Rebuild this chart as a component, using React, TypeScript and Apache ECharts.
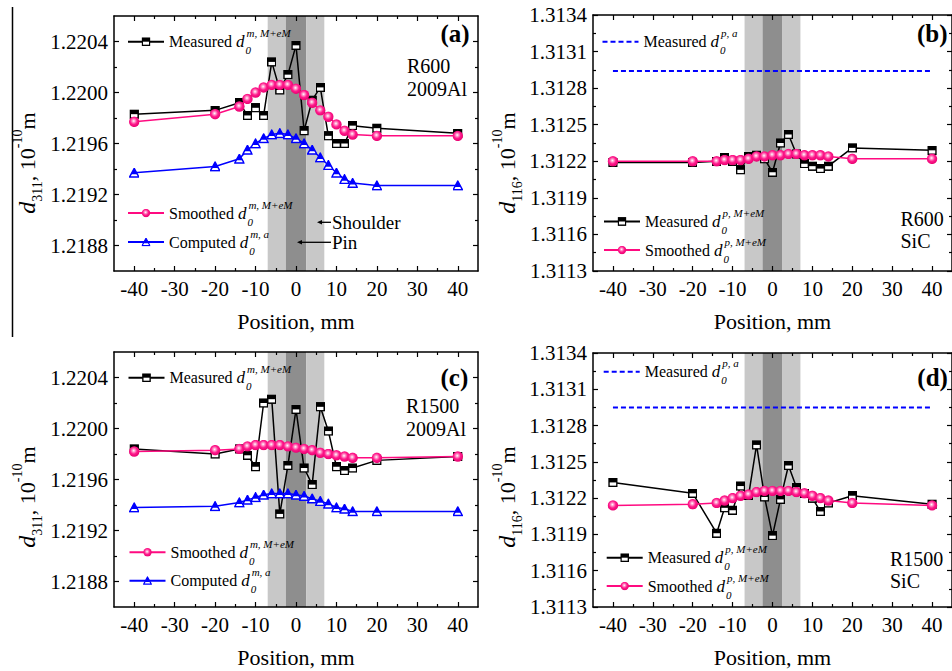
import React, { useEffect, useRef } from 'react';
import * as echarts from 'echarts';

const FONT = "'Liberation Serif', 'Times New Roman', Times, serif";

// ---------- data ----------
const positions = [-40, -20, -14, -12, -10, -8, -6, -4, -2, 0, 2, 4, 6, 8, 10, 12, 14, 20, 40];

const aMeasured = [1.21983, 1.21986, 1.21992, 1.21982, 1.21988, 1.21982, 1.22024, 1.22002, 1.22014, 1.22037, 1.21970, 1.21994, 1.22004, 1.21966, 1.21960, 1.21960, 1.21974, 1.21972, 1.21968];
const aSmoothed = [1.21977, 1.21983, 1.21989, 1.21995, 1.22000, 1.22004, 1.22006, 1.22006, 1.22006, 1.22003, 1.21998, 1.21992, 1.21986, 1.21981, 1.21975, 1.21970, 1.21967, 1.21966, 1.21966];
const aComputed = [1.21937, 1.21942, 1.21948, 1.21955, 1.21960, 1.21964, 1.21967, 1.21968, 1.21967, 1.21964, 1.21960, 1.21955, 1.21949, 1.21943, 1.21937, 1.21932, 1.21929, 1.21927, 1.21927];

const bMeasured = [1.31219, 1.31219, 1.31220, 1.31223, 1.31220, 1.31213, 1.31224, 1.31225, 1.31222, 1.31211, 1.31235, 1.31242, 1.31226, 1.31218, 1.31216, 1.31214, 1.31216, 1.31231, 1.31229];
const bSmoothed = [1.31220, 1.31220, 1.31220, 1.31221, 1.31221, 1.31221, 1.31222, 1.31224, 1.31224, 1.31225, 1.31225, 1.31226, 1.31226, 1.31225, 1.31225, 1.31225, 1.31224, 1.31222, 1.31222];
const bMeasuredA = 1.31294;

const cMeasured = [1.21984, 1.21980, 1.21984, 1.21979, 1.21970, 1.22020, 1.22023, 1.21933, 1.21971, 1.22015, 1.21969, 1.21956, 1.22017, 1.21998, 1.21970, 1.21967, 1.21969, 1.21975, 1.21978];
const cSmoothed = [1.21982, 1.21983, 1.21984, 1.21986, 1.21987, 1.21987, 1.21987, 1.21987, 1.21986, 1.21985, 1.21984, 1.21983, 1.21981, 1.21980, 1.21979, 1.21978, 1.21977, 1.21977, 1.21978];
const cComputed = [1.21938, 1.21939, 1.21942, 1.21944, 1.21946, 1.21948, 1.21949, 1.21949, 1.21949, 1.21948, 1.21947, 1.21945, 1.21943, 1.21941, 1.21938, 1.21937, 1.21935, 1.21935, 1.21935];

const dMeasured = [1.31233, 1.31224, 1.31191, 1.31212, 1.31210, 1.31230, 1.31222, 1.31264, 1.31221, 1.31189, 1.31219, 1.31247, 1.31229, 1.31224, 1.31220, 1.31209, 1.31216, 1.31222, 1.31215];
const dSmoothed = [1.31214, 1.31215, 1.31216, 1.31218, 1.31220, 1.31222, 1.31223, 1.31225, 1.31226, 1.31226, 1.31226, 1.31226, 1.31225, 1.31224, 1.31222, 1.31220, 1.31218, 1.31216, 1.31214];
const dMeasuredA = 1.31295;

const dashExtent = [-40, 40];
const shoulderZone = [-7, 7];
const pinZone = [-2.5, 2.5];

// ---------- ticks ----------
const xRange = [-45, 45];
const xMajorTicks = [-40, -30, -20, -10, 0, 10, 20, 30, 40];
const xMinorTicks = [-35, -25, -15, -5, 5, 15, 25, 35];
const d311Range = [1.2186, 1.2206];
const d311MajorTicks = [1.2188, 1.2192, 1.2196, 1.22, 1.2204];
const d311MinorTicks = [1.219, 1.2194, 1.2198, 1.2202];
const d116Range = [1.3113, 1.3134];
const d116MajorTicks = [1.3113, 1.3116, 1.3119, 1.3122, 1.3125, 1.3128, 1.3131, 1.3134];
const d116MinorTicks = [1.31145, 1.31175, 1.31205, 1.31235, 1.31265, 1.31295, 1.31325];

// ---------- symbols ----------
const svgUrl = (s: string) => 'image://data:image/svg+xml;charset=utf-8,' + encodeURIComponent(s);
const SQUARE = svgUrl(
  '<svg xmlns="http://www.w3.org/2000/svg" width="20" height="20" viewBox="0 0 20 20">' +
    '<rect x="1.6" y="1.6" width="16.8" height="16.8" fill="#fff" stroke="#000" stroke-width="3.2"/>' +
    '<rect x="1.6" y="1.6" width="16.8" height="8.4" fill="#000"/></svg>'
);
const TRIANGLE = svgUrl(
  '<svg xmlns="http://www.w3.org/2000/svg" width="20" height="20" viewBox="0 0 20 20">' +
    '<polygon points="10,1.5 18.8,18 1.2,18" fill="#fff" stroke="#0000ff" stroke-width="2.8"/>' +
    '<polygon points="10,1.5 16,12.8 4,12.8" fill="#0000ff"/></svg>'
);
const BALL = svgUrl(
  '<svg xmlns="http://www.w3.org/2000/svg" width="20" height="20" viewBox="0 0 20 20">' +
    '<defs><radialGradient id="g" cx="0.45" cy="0.42" r="0.6">' +
    '<stop offset="0" stop-color="#ffffff"/><stop offset="0.22" stop-color="#ff9ccc"/>' +
    '<stop offset="0.55" stop-color="#ff1a8c"/><stop offset="1" stop-color="#e6006e"/></radialGradient></defs>' +
    '<circle cx="10" cy="10" r="9.5" fill="url(#g)"/></svg>'
);

const BLACK = '#000000';
const PINK = '#ff0a80';
const BLUE = '#0000ff';

// ---------- legend texts ----------
const legendLabels: Record<string, string> = {
  aMeas: '{t|Measured }{i|d}{sub|0}{sup|m, M+eM}',
  aSmooth: '{t|Smoothed }{i|d}{sub|0}{sup|m, M+eM}',
  aComp: '{t|Computed }{i|d}{sub|0}{sup|m, a}',
  bDash: '{t|Measured }{i|d}{sub|0}{sup|p, a}',
  bMeas: '{t|Measured }{i|d}{sub|0}{sup|p, M+eM}',
  bSmooth: '{t|Smoothed }{i|d}{sub|0}{sup|p, M+eM}',
  cMeas: '{t|Measured }{i|d}{sub|0}{sup|m, M+eM}',
  cSmooth: '{t|Smoothed }{i|d}{sub|0}{sup|m, M+eM}',
  cComp: '{t|Computed }{i|d}{sub|0}{sup|m, a}',
  dDash: '{t|Measured }{i|d}{sub|0}{sup|p, a}',
  dMeas: '{t|Measured }{i|d}{sub|0}{sup|p, M+eM}',
  dSmooth: '{t|Smoothed }{i|d}{sub|0}{sup|p, M+eM}',
};

const LEG_LH = 28;
const legendRich = {
  t: { fontFamily: FONT, fontSize: 16, lineHeight: LEG_LH, color: '#000' },
  i: { fontFamily: FONT, fontSize: 17, fontStyle: 'italic', lineHeight: LEG_LH, color: '#000', padding: [0, 1, 0, 0] },
  sub: { fontFamily: FONT, fontSize: 11, fontStyle: 'italic', lineHeight: 12, verticalAlign: 'bottom', color: '#000', width: 1 },
  sup: { fontFamily: FONT, fontSize: 11, fontStyle: 'italic', lineHeight: 12, verticalAlign: 'top', color: '#000' },
};

// ---------- layout ----------
const panels = [
  {
    grid: { left: 114, top: 16, width: 364, height: 255 },
    yRange: d311Range, yMajor: d311MajorTicks, yMinor: d311MinorTicks,
    yTitle: { x: 27, y: 163, sub: '311' },
    tag: { text: '(a)', x: 440.5, y: 33 },
    notes: [{ text: 'R600', x: 407, y: 66 }, { text: '2009Al', x: 407, y: 88.5 }],
    legends: [
      { name: 'aMeas', left: 127, cy: 41.7 },
      { name: 'aSmooth', left: 127, cy: 213 },
      { name: 'aComp', left: 127, cy: 242 },
    ],
  },
  {
    grid: { left: 593, top: 15, width: 364, height: 256 },
    yRange: d116Range, yMajor: d116MajorTicks, yMinor: d116MinorTicks,
    yTitle: { x: 507, y: 163, sub: '116' },
    tag: { text: '(b)', x: 917, y: 33 },
    notes: [{ text: 'R600', x: 900.5, y: 219 }, { text: 'SiC', x: 900.5, y: 241 }],
    legends: [
      { name: 'bDash', left: 601.5, cy: 41.7 },
      { name: 'bMeas', left: 603, cy: 221.5 },
      { name: 'bSmooth', left: 603, cy: 250 },
    ],
  },
  {
    grid: { left: 114, top: 352, width: 364, height: 255 },
    yRange: d311Range, yMajor: d311MajorTicks, yMinor: d311MinorTicks,
    yTitle: { x: 27, y: 497, sub: '311' },
    tag: { text: '(c)', x: 440.5, y: 377 },
    notes: [{ text: 'R1500', x: 406, y: 406 }, { text: '2009Al', x: 406, y: 428.5 }],
    legends: [
      { name: 'cMeas', left: 127.5, cy: 377.7 },
      { name: 'cSmooth', left: 128.5, cy: 552.3 },
      { name: 'cComp', left: 128.5, cy: 580.7 },
    ],
  },
  {
    grid: { left: 593, top: 353, width: 364, height: 254 },
    yRange: d116Range, yMajor: d116MajorTicks, yMinor: d116MinorTicks,
    yTitle: { x: 507, y: 497, sub: '116' },
    tag: { text: '(d)', x: 917.3, y: 377 },
    notes: [{ text: 'R1500', x: 890, y: 558.7 }, { text: 'SiC', x: 890, y: 580.7 }],
    legends: [
      { name: 'dDash', left: 602.7, cy: 371.7 },
      { name: 'dMeas', left: 605.7, cy: 557.7 },
      { name: 'dSmooth', left: 605.7, cy: 586 },
    ],
  },
];

function makeAxes(dim: 'x' | 'y', g: number, range: number[], majors: number[], minors: number[]) {
  const p1 = dim === 'x' ? 'bottom' : 'left';
  const p2 = dim === 'x' ? 'top' : 'right';
  const common = {
    type: 'value', gridIndex: g, min: range[0], max: range[1], z: 5,
    splitLine: { show: false }, splitArea: { show: false }, minorTick: { show: false },
  };
  const tick = (vals: number[], len: number) => ({
    show: true, inside: true, length: len, customValues: vals, lineStyle: { color: '#000', width: 1.2 },
  });
  const line = (show: boolean) => ({ show, onZero: false, lineStyle: { color: '#000', width: 1.5 } });
  const label = dim === 'x'
    ? { show: true, customValues: majors, fontFamily: FONT, fontSize: 21, color: '#000', margin: 7, formatter: (v: number) => String(v) }
    : { show: true, customValues: majors, fontFamily: FONT, fontSize: 21, color: '#000', margin: 6, formatter: (v: number) => v.toFixed(4) };
  const main: any = { ...common, position: p1, axisLine: line(true), axisTick: tick(majors, 5), axisLabel: label };
  if (dim === 'x') {
    Object.assign(main, {
      name: 'Position, mm', nameLocation: 'middle', nameGap: 39,
      nameTextStyle: { fontFamily: FONT, fontSize: 22, color: '#000' },
    });
  }
  const mainMinor = { ...common, position: p1, axisLine: line(false), axisTick: tick(minors, 3), axisLabel: { show: false } };
  const mirror = { ...common, position: p2, axisLine: line(true), axisTick: tick(majors, 5), axisLabel: { show: false } };
  const mirrorMinor = { ...common, position: p2, axisLine: line(false), axisTick: tick(minors, 3), axisLabel: { show: false } };
  return [main, mainMinor, mirror, mirrorMinor];
}

function lineSeries(name: string, g: number, ys: number[], color: string, symbol: string, size: number, z: number, extra: any = {}) {
  return {
    type: 'line', name, xAxisIndex: 4 * g, yAxisIndex: 4 * g,
    data: positions.map((x, i) => [x, ys[i]]),
    symbol, symbolSize: size, showSymbol: true, z, silent: true,
    lineStyle: { color, width: 1.5 }, itemStyle: { color },
    emphasis: { disabled: true },
    ...extra,
  };
}

function dashSeries(name: string, g: number, value: number) {
  return {
    type: 'line', name, xAxisIndex: 4 * g, yAxisIndex: 4 * g,
    data: dashExtent.map((x) => [x, value]),
    symbol: 'none', z: 3, silent: true,
    lineStyle: { color: BLUE, width: 2, type: [5, 3] }, itemStyle: { color: BLUE },
    emphasis: { disabled: true },
  };
}

const bands = {
  silent: true,
  label: { show: false },
  emphasis: { disabled: true },
  data: [
    [{ xAxis: shoulderZone[0], itemStyle: { color: '#c8c8c8' } }, { xAxis: pinZone[0] }],
    [{ xAxis: pinZone[0], itemStyle: { color: '#8e8e8e' } }, { xAxis: pinZone[1] }],
    [{ xAxis: pinZone[1], itemStyle: { color: '#c8c8c8' } }, { xAxis: shoulderZone[1] }],
  ],
};

function buildOption() {
  const xAxis: any[] = [];
  const yAxis: any[] = [];
  const legend: any[] = [];
  const graphic: any[] = [];

  panels.forEach((p, g) => {
    xAxis.push(...makeAxes('x', g, xRange, xMajorTicks, xMinorTicks));
    yAxis.push(...makeAxes('y', g, p.yRange, p.yMajor, p.yMinor));
    p.legends.forEach((l) => {
      const isDash = l.name.endsWith('Dash');
      legend.push({
        data: [isDash ? { name: l.name, itemStyle: { opacity: 0 } } : l.name],
        left: l.left, top: l.cy - LEG_LH / 2, padding: 0, itemGap: 0,
        itemWidth: 36, itemHeight: 11, selectedMode: false,
        lineStyle: { width: 2 },
        formatter: (n: string) => legendLabels[n],
        textStyle: { fontFamily: FONT, fontSize: 16, color: '#000', rich: legendRich },
      });
    });
    graphic.push({
      type: 'text', x: p.tag.x, y: p.tag.y, silent: true, z: 20,
      style: { text: p.tag.text, fontFamily: FONT, fontSize: 25, fontWeight: 'bold', fill: '#000', align: 'left', verticalAlign: 'middle' },
    });
    p.notes.forEach((n) => graphic.push({
      type: 'text', x: n.x, y: n.y, silent: true, z: 20,
      style: { text: n.text, fontFamily: FONT, fontSize: 20, fill: '#000', align: 'left', verticalAlign: 'middle' },
    }));
    graphic.push({
      type: 'text', x: p.yTitle.x, y: p.yTitle.y, rotation: Math.PI / 2, silent: true, z: 20,
      style: {
        text: `{i|d}{sub|${p.yTitle.sub}}{t|, 10}{sup|-10}{t|m}`,
        align: 'center', verticalAlign: 'middle', fill: '#000', fontFamily: FONT,
        rich: {
          t: { fontFamily: FONT, fontSize: 22, lineHeight: 34, fill: '#000' },
          i: { fontFamily: FONT, fontSize: 24, fontStyle: 'italic', lineHeight: 34, fill: '#000' },
          sub: { fontFamily: FONT, fontSize: 14, lineHeight: 14, verticalAlign: 'bottom', fill: '#000' },
          sup: { fontFamily: FONT, fontSize: 14, lineHeight: 14, verticalAlign: 'top', fill: '#000' },
        },
      },
    });
  });

  // Shoulder / Pin annotations (panel a)
  const ann = [
    { text: 'Shoulder', y: 222.3, head: 317, tail: 331 },
    { text: 'Pin', y: 242.3, head: 297, tail: 331 },
  ];
  ann.forEach((a) => {
    graphic.push({ type: 'line', silent: true, z: 20, shape: { x1: a.head + 3, y1: a.y, x2: a.tail, y2: a.y }, style: { stroke: '#000', lineWidth: 1.3 } });
    graphic.push({ type: 'polygon', silent: true, z: 20, shape: { points: [[a.head, a.y], [a.head + 5, a.y - 2.2], [a.head + 5, a.y + 2.2]] }, style: { fill: '#000' } });
    graphic.push({
      type: 'text', x: a.tail + 1, y: a.y, silent: true, z: 20,
      style: { text: a.text, fontFamily: FONT, fontSize: 19, fill: '#000', align: 'left', verticalAlign: 'middle' },
    });
  });
  // stray frame line on the left edge of the source figure
  graphic.push({ type: 'line', silent: true, z: 20, shape: { x1: 12.5, y1: 7, x2: 12.5, y2: 337 }, style: { stroke: '#000', lineWidth: 1.5 } });

  const series: any[] = [
    lineSeries('aMeas', 0, aMeasured, BLACK, SQUARE, 9.5, 3, { markArea: bands }),
    lineSeries('aSmooth', 0, aSmoothed, PINK, BALL, 11, 4),
    lineSeries('aComp', 0, aComputed, BLUE, TRIANGLE, 10.5, 4),
    dashSeries('bDash', 1, bMeasuredA),
    lineSeries('bMeas', 1, bMeasured, BLACK, SQUARE, 9.5, 3, { markArea: bands }),
    lineSeries('bSmooth', 1, bSmoothed, PINK, BALL, 11, 4),
    lineSeries('cMeas', 2, cMeasured, BLACK, SQUARE, 9.5, 3, { markArea: bands }),
    lineSeries('cSmooth', 2, cSmoothed, PINK, BALL, 11, 4),
    lineSeries('cComp', 2, cComputed, BLUE, TRIANGLE, 10.5, 4),
    dashSeries('dDash', 3, dMeasuredA),
    lineSeries('dMeas', 3, dMeasured, BLACK, SQUARE, 9.5, 3, { markArea: bands }),
    lineSeries('dSmooth', 3, dSmoothed, PINK, BALL, 11, 4),
  ];

  return {
    animation: false,
    backgroundColor: '#ffffff',
    textStyle: { fontFamily: FONT },
    grid: panels.map((p) => ({ ...p.grid, containLabel: false })),
    xAxis, yAxis, legend, series, graphic,
  };
}

export default function App() {
  const ref = useRef<HTMLDivElement>(null);
  useEffect(() => {
    document.body.style.margin = '0';
    const chart = echarts.init(ref.current!, null, { renderer: 'svg' });
    chart.setOption(buildOption() as any);
    return () => chart.dispose();
  }, []);
  return <div ref={ref} style={{ width: 952, height: 671, overflow: 'hidden' }} />;
}
